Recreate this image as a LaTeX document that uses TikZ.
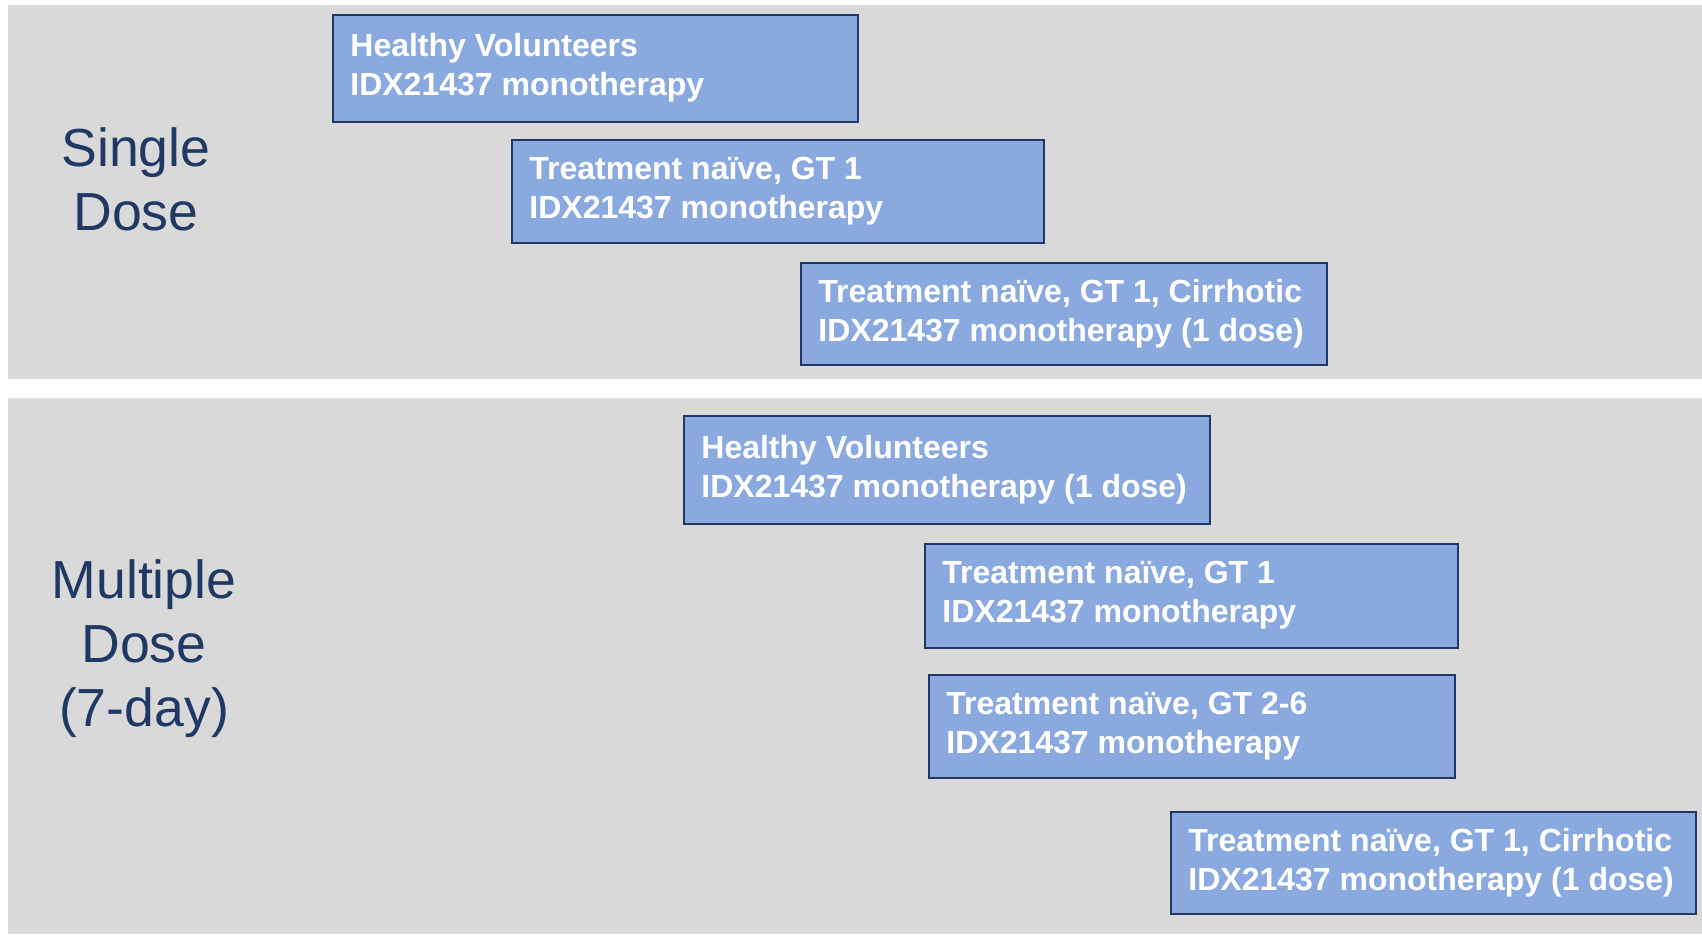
\documentclass[tikz,border=0pt]{standalone}
\usepackage{fontspec}
\setmainfont{Liberation Sans}
\definecolor{band}{RGB}{217,217,217}
\definecolor{boxfill}{RGB}{138,169,222}
\definecolor{boxline}{RGB}{31,56,100}
\definecolor{labeltext}{RGB}{31,56,100}
\begin{document}
\begin{tikzpicture}[x=0.5pt,y=-0.5pt,
  cohort/.style={draw=boxline, line width=1pt, fill=boxfill, rectangle,
    inner sep=0pt, anchor=north west},
  cohorttext/.style={anchor=west, inner sep=0pt, align=left, text=white,
    font=\fontsize{16}{19.5}\selectfont\bfseries},
  phase/.style={align=center, text=labeltext, inner sep=0pt,
    font=\fontsize{26.8}{32}\selectfont},
]
\useasboundingbox (0,0) rectangle (1702,934);

% background bands
\fill[band] (8,5) rectangle (1702,379);
\fill[band] (8,398) rectangle (1702,934);

% phase labels
\node[phase] (single) at (136,179) {Single\\Dose};
\node[phase] (multi) at (144,649) {Multiple\\Dose\\(7-day)};

% single-dose cohorts
\node[cohort, minimum width=262.5pt, minimum height=53.5pt] (b1) at (332,14) {};
\node[cohorttext] (t1) at ([xshift=9pt,yshift=0.3pt]b1.west) {Healthy Volunteers\\IDX21437 monotherapy};

\node[cohort, minimum width=266pt, minimum height=51.5pt] (b2) at (511,139) {};
\node[cohorttext] (t2) at ([xshift=9pt,yshift=0.3pt]b2.west) {Treatment naïve, GT 1\\IDX21437 monotherapy};

\node[cohort, minimum width=263pt, minimum height=51pt] (b3) at (800,262) {};
\node[cohorttext] (t3) at ([xshift=9pt,yshift=0.3pt]b3.west) {Treatment naïve, GT 1, Cirrhotic\\IDX21437 monotherapy (1 dose)};

% multiple-dose cohorts
\node[cohort, minimum width=263pt, minimum height=54pt] (b4) at (683,415) {};
\node[cohorttext] (t4) at ([xshift=9pt,yshift=0.3pt]b4.west) {Healthy Volunteers\\IDX21437 monotherapy (1 dose)};

\node[cohort, minimum width=266.5pt, minimum height=52pt] (b5) at (924,543) {};
\node[cohorttext] (t5) at ([xshift=9pt,yshift=0.3pt]b5.west) {Treatment naïve, GT 1\\IDX21437 monotherapy};

\node[cohort, minimum width=263pt, minimum height=51.5pt] (b6) at (928,674) {};
\node[cohorttext] (t6) at ([xshift=9pt,yshift=0.3pt]b6.west) {Treatment naïve, GT 2-6\\IDX21437 monotherapy};

\node[cohort, minimum width=262.5pt, minimum height=51pt] (b7) at (1170,811) {};
\node[cohorttext] (t7) at ([xshift=9pt,yshift=0.3pt]b7.west) {Treatment naïve, GT 1, Cirrhotic\\IDX21437 monotherapy (1 dose)};
\end{tikzpicture}
\end{document}
